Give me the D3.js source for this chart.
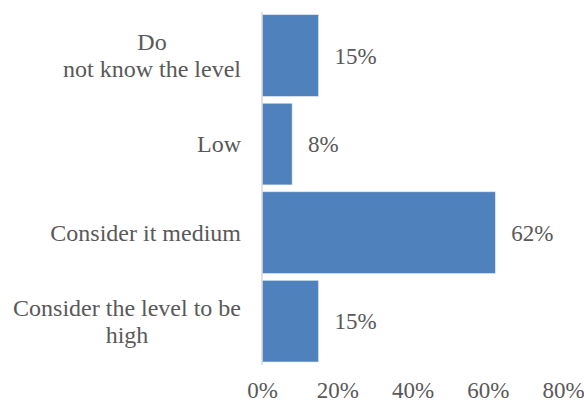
<!DOCTYPE html>
<html>
<head>
<meta charset="utf-8">
<script src="https://cdn.jsdelivr.net/npm/d3@7"></script>
<style>
    body { margin: 0; background: #fff; }
</style>
</head>
<body>
<div class="viz"></div>
<script>
const w = 584;
const h = 403;
const font = "'Liberation Serif', 'Times New Roman', Times, 'DejaVu Serif', serif";

const categories = ["Do\nnot know the level", "Low", "Consider it medium", "Consider the level to be\nhigh"];
const values = [15, 8, 62, 15];
const ticks = [0, 20, 40, 60, 80];

const svg = d3.select(".viz")
    .append("svg")
    .attr("width", w)
    .attr("height", h)
    .attr("font-family", font)
    .style("font-family", font);

const x = d3.scaleLinear()
    .domain([0, 80])
    .range([262, 563]);

const y = d3.scaleBand()
    .domain(categories)
    .range([11.7, 365])
    .paddingInner(0.078)
    .paddingOuter(0.034);

// bars
svg.selectAll("rect.bar")
    .data(values)
    .enter()
    .append("rect")
    .attr("class", "bar")
    .attr("x", x(0))
    .attr("y", (d, i) => y(categories[i]))
    .attr("width", d => x(d) - x(0))
    .attr("height", y.bandwidth())
    .style("fill", "#4f81bd")
    .style("stroke", "#dbe4f0")
    .style("stroke-width", 0.6);

// vertical axis line
svg.append("line")
    .attr("x1", x(0))
    .attr("x2", x(0))
    .attr("y1", y.range()[0])
    .attr("y2", y.range()[1])
    .style("stroke", "#d9d9d9")
    .style("stroke-width", 1.5);

// value labels
svg.selectAll("text.value")
    .data(values)
    .enter()
    .append("text")
    .attr("class", "value")
    .attr("x", d => x(d) + 16)
    .attr("y", (d, i) => y(categories[i]) + y.bandwidth() / 2)
    .attr("dy", "0.35em")
    .style("font-family", font)
    .style("font-size", "23px")
    .style("fill", "#595959")
    .text(d => d + "%");

// category labels, lines centred on each other, block right-aligned
const lineH = 27;
categories.forEach(function (c) {
    const lines = c.split("\n");
    const cy = y(c) + y.bandwidth() / 2;
    const t = svg.append("text")
        .attr("class", "cat")
        .style("font-family", font)
        .style("font-size", "24px")
        .style("fill", "#595959")
        .attr("text-anchor", "middle");
    const spans = lines.map(function (l, i) {
        return t.append("tspan")
            .attr("y", cy + (i - (lines.length - 1) / 2) * lineH)
            .attr("dy", "0.33em")
            .text(l);
    });
    const maxW = d3.max(spans, s => s.node().getComputedTextLength());
    spans.forEach(s => s.attr("x", 241 - maxW / 2));
});

// x axis tick labels
const xAxis = d3.axisBottom(x)
    .tickValues(ticks)
    .tickSize(0)
    .tickFormat(d => d + "%");

const gx = svg.append("g")
    .attr("transform", "translate(0,376)")
    .call(xAxis)
    .attr("font-family", font);
gx.select(".domain").remove();
gx.selectAll("text")
    .attr("dy", 0)
    .attr("y", 22)
    .style("font-family", font)
    .style("font-size", "23px")
    .style("fill", "#595959");
</script>
</body>
</html>
